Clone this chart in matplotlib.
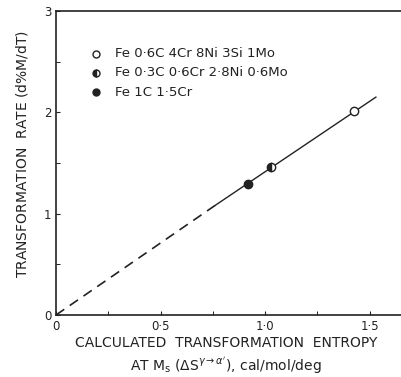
import matplotlib
matplotlib.use("Agg")
import matplotlib.pyplot as plt

# measured points
open_x, open_y = [1.425], [2.01]
half_x, half_y = [1.03], [1.46]
fill_x, fill_y = [0.92], [1.29]
labels = ["Fe 0·6C 4Cr 8Ni 3Si 1Mo", "Fe 0·3C 0·6Cr 2·8Ni 0·6Mo", "Fe 1C 1·5Cr"]

# fitted line (dashed extrapolation + solid part)
dash_x, dash_y = [0.0, 0.76], [0.0, 1.08]
solid_x, solid_y = [0.76, 1.53], [1.08, 2.15]

xticks = [0, 0.5, 1.0, 1.5]
xticklabels = ["0", "0·5", "1·0", "1·5"]
yticks = [0, 1, 2, 3]

plt.rcParams['font.family'] = ['DejaVu Sans']
fig = plt.figure(figsize=(4.01, 3.77), dpi=100)
ax = fig.add_axes([0.1397, 0.1645, 0.8603, 0.8063])

ax.plot(dash_x, dash_y, color='#222222', lw=1.2, ls=(0, (6, 4)))
ax.plot(solid_x, solid_y, color='#222222', lw=1.0)
ax.plot(open_x, open_y, 'o', ms=6, mfc='white', mec='#222222', mew=1.0)
ax.plot(half_x, half_y, 'o', ms=6, fillstyle='left', color='#222222',
        markerfacecoloralt='white', mew=1.0)
ax.plot(fill_x, fill_y, 'o', ms=6, color='#222222')

# legend drawn as text
leg_y = [2.58, 2.39, 2.2]
leg_styles = [dict(mfc='white', mec='#222222'),
              dict(fillstyle='left', color='#222222', markerfacecoloralt='white'),
              dict(color='#222222')]
for ly, lab, st in zip(leg_y, labels, leg_styles):
    ax.plot([0.19], [ly], 'o', ms=5, mew=1.0, **st)
    ax.text(0.28, ly, lab, fontsize=9.5, va='center', color='#222222')

ax.set_xlim(0, 1.65)
ax.set_ylim(0, 3)
ax.set_xticks(xticks)
ax.set_xticklabels(xticklabels)
ax.set_yticks(yticks)
ax.set_xticks([0.25, 0.75, 1.25], minor=True)
ax.set_yticks([0.5, 1.5, 2.5], minor=True)
ax.tick_params(direction='in', length=3, labelsize=8.5, colors='#222222')
ax.tick_params(which='minor', direction='in', length=3)
ax.spines['right'].set_visible(False)
for s in ['left', 'bottom', 'top']:
    ax.spines[s].set_linewidth(1.2)
    ax.spines[s].set_color('#222222')

fig.text(0.055, 0.59, r"TRANSFORMATION  RATE $\left(\mathrm{d\%M/dT}\right)$",
         fontsize=10, color='#222222', rotation=90, ha='center', va='center')
fig.text(0.564, 0.090, "CALCULATED  TRANSFORMATION  ENTROPY",
         fontsize=10, color='#222222', ha='center', va='center')
fig.text(0.562, 0.031,
         r"AT M$_\mathrm{s}$ $\left(\Delta \mathrm{S}^{\gamma\rightarrow\alpha'}\right)$, cal/mol/deg",
         fontsize=10, color='#222222', ha='center', va='center')

fig.savefig("out.png", dpi=100)
